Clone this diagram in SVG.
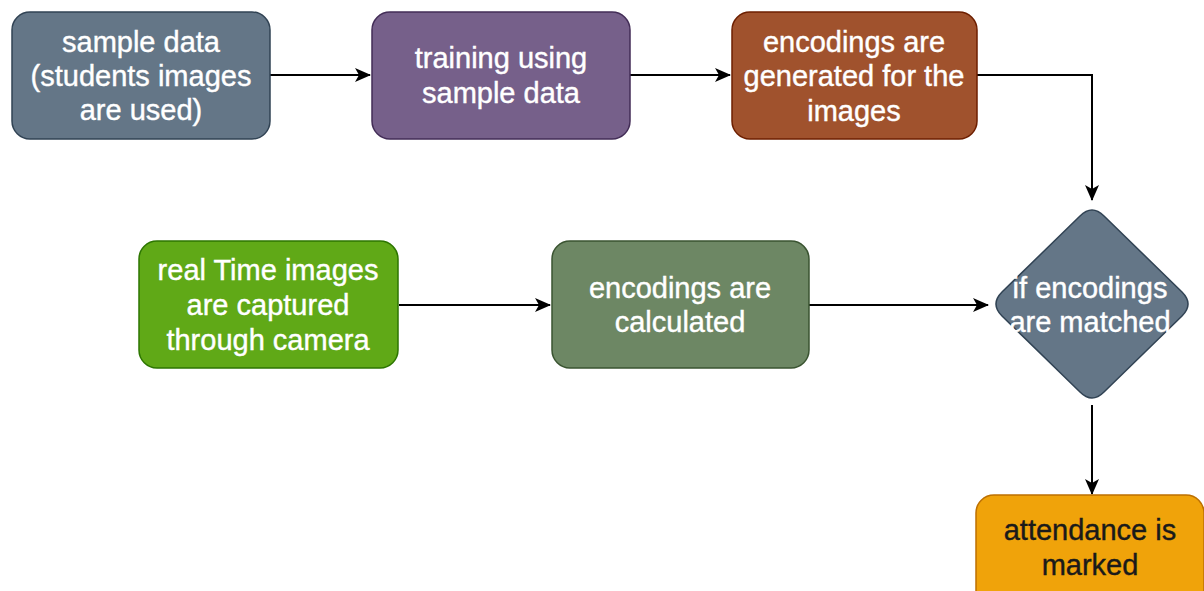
<svg xmlns="http://www.w3.org/2000/svg" width="1204" height="591" viewBox="0 0 1204 591">
<defs>
<style>
.box{stroke-width:1.5}
.t{font-family:"Liberation Sans",Arial,sans-serif;font-size:29px;fill:#ffffff;text-anchor:middle;stroke:#ffffff;stroke-width:0.4}
.dark{fill:#1a1a1a;stroke:#1a1a1a}
.c{fill:none;stroke:#000;stroke-width:2}
</style>
<marker id="ah" viewBox="0 0 16 14" refX="15" refY="7" markerWidth="16" markerHeight="14" markerUnits="userSpaceOnUse" orient="auto">
<path d="M0,0 L16,7 L0,14 L4,7 Z" fill="#000"/>
</marker>
</defs>
<rect width="1204" height="591" fill="#ffffff"/>
<g id="connectors">
<path class="c" d="M270,75 L370,75" marker-end="url(#ah)"/>
<path class="c" d="M630,75 L730,75" marker-end="url(#ah)"/>
<path class="c" d="M977,75 L1092,75 L1092,200" marker-end="url(#ah)"/>
<path class="c" d="M399,305 L550,305" marker-end="url(#ah)"/>
<path class="c" d="M809,305 L988,305" marker-end="url(#ah)"/>
<path class="c" d="M1092,405 L1092,494" marker-end="url(#ah)"/>
</g>
<g id="sample-data">
<rect class="box" x="12" y="12" width="258" height="127" rx="18" fill="#647687" stroke="#314354"/>
<text class="t"><tspan x="141" y="52">sample data</tspan><tspan x="141" y="86">(students images</tspan><tspan x="141" y="120">are used)</tspan></text>
</g>
<g id="training">
<rect class="box" x="372" y="12" width="258" height="127" rx="18" fill="#76608a" stroke="#432d57"/>
<text class="t"><tspan x="501" y="68">training using</tspan><tspan x="501" y="103">sample data</tspan></text>
</g>
<g id="encodings-generated">
<rect class="box" x="732" y="12" width="245" height="127" rx="18" fill="#a0522d" stroke="#6d1f00"/>
<text class="t"><tspan x="854" y="52">encodings are</tspan><tspan x="854" y="86">generated for the</tspan><tspan x="854" y="121">images</tspan></text>
</g>
<g id="real-time">
<rect class="box" x="139" y="241" width="259" height="127" rx="18" fill="#60a917" stroke="#2d7600"/>
<text class="t"><tspan x="268" y="280">real Time images</tspan><tspan x="268" y="315">are captured</tspan><tspan x="268" y="350">through camera</tspan></text>
</g>
<g id="encodings-calculated">
<rect class="box" x="552" y="241" width="257" height="127" rx="18" fill="#6d8764" stroke="#3a5431"/>
<text class="t"><tspan x="680" y="298">encodings are</tspan><tspan x="680" y="332">calculated</tspan></text>
</g>
<g id="decision">
<path class="box" d="M1080,216 Q1092,204 1104,216 L1182,292 Q1194,304 1182,316 L1104,392 Q1092,404 1080,392 L1002,316 Q990,304 1002,292 Z" fill="#647687" stroke="#314354"/>
<text class="t"><tspan x="1090" y="298">if encodings</tspan><tspan x="1090" y="332">are matched</tspan></text>
</g>
<g id="attendance">
<rect class="box" x="976" y="495" width="228" height="127" rx="18" fill="#f0a30a" stroke="#bd7000"/>
<text class="t dark"><tspan x="1090" y="540">attendance is</tspan><tspan x="1090" y="575">marked</tspan></text>
</g>
</svg>
